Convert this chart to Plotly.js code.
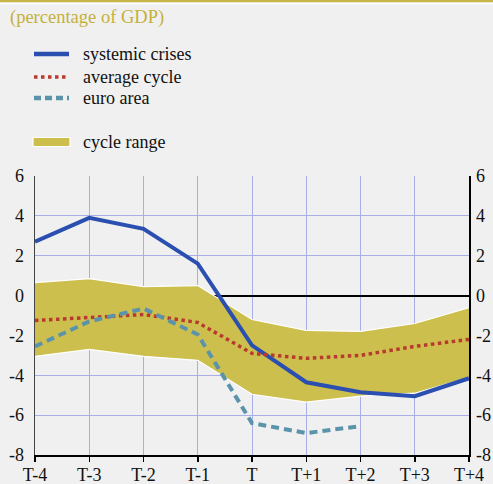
<!DOCTYPE html>
<html><head><meta charset="utf-8">
<script src="https://cdn.plot.ly/plotly-3.0.1.min.js"></script>
<style>html,body{margin:0;padding:0;background:#f0f0f0}</style>
</head><body><div id="chart" style="width:493px;height:484px"></div>
<script>
const categories = ['T-4','T-3','T-2','T-1','T','T+1','T+2','T+3','T+4'];
const systemicCrises = [2.7, 3.9, 3.35, 1.6, -2.5, -4.35, -4.85, -5.05, -4.15];
const averageCycle = [-1.25, -1.1, -0.95, -1.35, -2.9, -3.15, -3.0, -2.55, -2.2];
const euroArea = [-2.55, -1.3, -0.65, -1.95, -6.4, -6.9, -6.55];
const rangeUpper = [0.65, 0.85, 0.45, 0.5, -1.2, -1.75, -1.8, -1.4, -0.6];
const rangeLower = [-3.05, -2.7, -3.05, -3.25, -4.95, -5.35, -5.05, -4.9, -4.1];
const yTicks = [-8, -6, -4, -2, 0, 2, 4, 6];

const gold = '#cdbf4d', blue = '#2b4fb0', red = '#b83a2e', teal = '#5b94aa';
const serif = "Times New Roman";

const traces = [
  {x: categories, y: rangeLower, type: 'scatter', mode: 'lines', line: {color: '#ffffff', width: 1.2}, hoverinfo: 'skip', showlegend: false},
  {x: categories, y: rangeUpper, type: 'scatter', mode: 'lines', fill: 'tonexty', fillcolor: gold, line: {color: '#ffffff', width: 1.2}, name: 'cycle range', showlegend: false},
  {x: categories, y: systemicCrises, type: 'scatter', mode: 'lines', line: {color: blue, width: 4}, name: 'systemic crises', showlegend: false},
  {x: categories, y: averageCycle, type: 'scatter', mode: 'lines', line: {color: red, width: 3.5, dash: 'dot'}, name: 'average cycle', showlegend: false},
  {x: categories.slice(0, euroArea.length), y: euroArea, type: 'scatter', mode: 'lines', line: {color: teal, width: 4, dash: '8px,5px'}, name: 'euro area', showlegend: false},
  {x: categories, y: systemicCrises, yaxis: 'y2', type: 'scatter', mode: 'lines', line: {width: 0}, opacity: 0, hoverinfo: 'skip', showlegend: false}
];

const legendItems = [
  {label: 'systemic crises', y: 54, color: blue, dash: 'solid', width: 4.5},
  {label: 'average cycle', y: 77, color: red, dash: 'dot', width: 3.5},
  {label: 'euro area', y: 98, color: teal, dash: '7px,4px', width: 4.5},
  {label: 'cycle range', y: 142, color: gold, dash: 'solid', width: 7}
];
const toPaperY = py => (455 - py) / 279;
const toPaperX = px => (px - 35) / 434;
const annotations = [];
const shapes = [];
shapes.push({type: 'line', xref: 'paper', yref: 'paper', x0: toPaperX(0), x1: toPaperX(493), y0: toPaperY(1), y1: toPaperY(1), line: {color: '#c9b648', width: 3}, layer: 'above'});
shapes.push({type: 'line', xref: 'paper', yref: 'paper', x0: toPaperX(0), x1: toPaperX(493), y0: toPaperY(3.5), y1: toPaperY(3.5), line: {color: '#ffffff', width: 2}, layer: 'above'});
legendItems.forEach(it => {
  if (it.label === 'cycle range') {
    shapes.push({type: 'rect', xref: 'paper', yref: 'paper', x0: toPaperX(33), x1: toPaperX(70), y0: toPaperY(it.y - 4.5), y1: toPaperY(it.y + 4.5), fillcolor: gold, line: {color: '#ffffff', width: 1.2}, layer: 'above'});
  } else {
    shapes.push({type: 'line', xref: 'paper', yref: 'paper', x0: toPaperX(34), x1: toPaperX(69), y0: toPaperY(it.y), y1: toPaperY(it.y), line: {color: it.color, width: it.width, dash: it.dash}, layer: 'above'});
  }
  annotations.push({xref: 'paper', yref: 'paper', x: toPaperX(81), y: toPaperY(it.y), xanchor: 'left', yanchor: 'middle', text: it.label, showarrow: false, font: {family: serif, size: 18, color: '#111111'}});
});
annotations.push({xref: 'paper', yref: 'paper', x: toPaperX(8), y: toPaperY(17), xanchor: 'left', yanchor: 'middle', text: '(percentage of GDP)', showarrow: false, font: {family: serif, size: 18.5, color: '#c4b13c'}});

const layout = {
  width: 493, height: 484,
  margin: {l: 35, r: 24, t: 176, b: 29, pad: 0},
  paper_bgcolor: '#f0f0f0', plot_bgcolor: '#f0f0f0',
  showlegend: false,
  font: {family: serif, size: 18, color: '#111111'},
  xaxis: {type: 'category', range: [0, 8], showgrid: true, gridcolor: '#a9aee6', gridwidth: 1,
          showline: true, linecolor: '#000000', linewidth: 1.5, ticks: 'outside', ticklen: 5, tickcolor: '#000000', tickwidth: 1.5,
          ticklabelstandoff: -2,
          tickfont: {family: serif, size: 18, color: '#111111'}, zeroline: false, fixedrange: true},
  yaxis: {range: [-8, 6], tickvals: yTicks, ticktext: yTicks.map(String), showgrid: true, gridcolor: '#a9aee6', gridwidth: 1,
          zeroline: true, zerolinecolor: '#000000', zerolinewidth: 2,
          showline: true, linecolor: '#444444', linewidth: 1.5, ticks: '', ticklabelstandoff: 6,
          tickfont: {family: serif, size: 18, color: '#111111'}, fixedrange: true},
  yaxis2: {range: [-8, 6], tickvals: yTicks, ticktext: yTicks.map(String), overlaying: 'y', side: 'right', showgrid: false, zeroline: false,
          showline: true, linecolor: '#000000', linewidth: 1.5, ticks: '', ticklabelstandoff: 2,
          tickfont: {family: serif, size: 18, color: '#111111'}, fixedrange: true},
  shapes: shapes,
  annotations: annotations
};
Plotly.newPlot('chart', traces, layout, {displayModeBar: false, staticPlot: true});
</script></body></html>
